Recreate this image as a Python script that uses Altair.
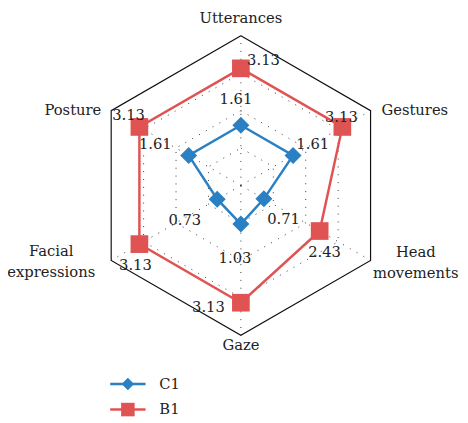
import altair as alt
import numpy as np
import pandas as pd

# ---- data ----
axes_names = ["Utterances", "Gestures", "Head movements", "Gaze", "Facial expressions", "Posture"]
axes_lines = ["Utterances", "Gestures", "Head\nmovements", "Gaze", "Facial\nexpressions", "Posture"]
c1_values = [1.61, 1.61, 0.71, 1.03, 0.73, 1.61]
b1_values = [3.13, 3.13, 2.43, 3.13, 3.13, 3.13]
c1_text = ["1.61", "1.61", "0.71", "1.03", "0.73", "1.61"]
b1_text = ["3.13", "3.13", "2.43", "3.13", "3.13", "3.13"]
grid_levels = [1, 2, 3]
r_max = 4
series_names = ["C1", "B1"]

# ---- layout (pixels) ----
W, H = 460, 415
CX, CY = 237, 177
K = 38.1  # pixels per unit
c1_off = [(-5, -27), (20, -11), (20, 21), (-6, 35), (-33, 21), (-34, -11)]
b1_off = [(23, -8), (-1, -10), (5, 21), (-33, 4), (-4, 21), (-11, -12)]
cat_off = [(0, -18), (45, -1), (46, -8), (0, 10), (-61, -9), (-39, -1)]

BLUE = "#2a80c2"
RED = "#e05353"
FONT = "DejaVu Serif"

xs = alt.Scale(domain=[-CX / K, (W - CX) / K], nice=False, zero=False)
ys = alt.Scale(domain=[-(H - CY) / K, CY / K], nice=False, zero=False)


def polar(r, i):
    a = np.deg2rad(90 - 60 * i)
    return r * np.cos(a), r * np.sin(a)


def polygon(values, name):
    rows = []
    for j in range(7):
        i = j % 6
        x, y = polar(values[i], i)
        rows.append({"x": x, "y": y, "o": j, "g": name})
    return pd.DataFrame(rows)


def pts(values):
    rows = []
    for i in range(6):
        x, y = polar(values[i], i)
        rows.append({"x": x, "y": y, "axis": axes_names[i]})
    return pd.DataFrame(rows)


def labels(values, texts, offs):
    rows = []
    for i in range(6):
        x, y = polar(values[i], i)
        rows.append({"x": x + offs[i][0] / K, "y": y - offs[i][1] / K, "t": texts[i]})
    return pd.DataFrame(rows)


X = lambda: alt.X("x:Q", scale=xs, axis=None)
Y = lambda: alt.Y("y:Q", scale=ys, axis=None)

# spokes
spk = []
for i in range(6):
    x, y = polar(r_max, i)
    spk.append({"x": 0.0, "y": 0.0, "x2": x, "y2": y})
spokes = alt.Chart(pd.DataFrame(spk)).mark_rule(
    color="#333", strokeWidth=1, strokeDash=[1, 7]
).encode(X(), Y(), x2="x2:Q", y2="y2:Q")

# dotted rings
rings_df = pd.concat([polygon([lv] * 6, f"r{lv}") for lv in grid_levels])
rings = alt.Chart(rings_df).mark_line(
    color="#333", strokeWidth=1, strokeDash=[1, 7]
).encode(X(), Y(), order="o:Q", detail="g:N")

outer = alt.Chart(polygon([r_max] * 6, "outer")).mark_line(
    color="#111", strokeWidth=1.2
).encode(X(), Y(), order="o:Q")

b1_line = alt.Chart(polygon(b1_values, "B1")).mark_line(color=RED, strokeWidth=2.5).encode(X(), Y(), order="o:Q")
b1_pts = alt.Chart(pts(b1_values)).mark_point(shape="square", filled=True, opacity=1, color=RED, size=324).encode(X(), Y())
c1_line = alt.Chart(polygon(c1_values, "C1")).mark_line(color=BLUE, strokeWidth=2.5).encode(X(), Y(), order="o:Q")
c1_pts = alt.Chart(pts(c1_values)).mark_point(shape="diamond", filled=True, opacity=1, color=BLUE, size=300).encode(X(), Y())

txt_kw = dict(font=FONT, fontSize=15, color="#222", align="center", baseline="middle")
b1_lab = alt.Chart(labels(b1_values, b1_text, b1_off)).mark_text(**txt_kw).encode(X(), Y(), text="t:N")
c1_lab = alt.Chart(labels(c1_values, c1_text, c1_off)).mark_text(**txt_kw).encode(X(), Y(), text="t:N")

cat_df = labels([r_max] * 6, axes_lines, cat_off)
cat_lab = alt.Chart(cat_df).mark_text(lineBreak="\n", lineHeight=21, **txt_kw).encode(X(), Y(), text="t:N")

# legend (manual)
leg_df = pd.DataFrame({"name": series_names})
leg_layers = []
for k, (name, col, shp, sz) in enumerate([("C1", BLUE, "diamond", 160), ("B1", RED, "square", 190)]):
    yy = 379 + 26 * k
    d = leg_df[leg_df["name"] == name]
    leg_layers.append(alt.Chart(d).mark_rule(color=col, strokeWidth=2.5).encode(
        x=alt.value(104), x2=alt.value(140), y=alt.value(yy)))
    leg_layers.append(alt.Chart(d).mark_point(shape=shp, filled=True, opacity=1, color=col, size=sz).encode(
        x=alt.value(122), y=alt.value(yy)))
    leg_layers.append(alt.Chart(d).mark_text(font=FONT, fontSize=15, color="#222", align="left", baseline="middle").encode(
        x=alt.value(154), y=alt.value(yy), text="name:N"))

chart = alt.layer(
    spokes, rings, outer, b1_line, c1_line, b1_pts, c1_pts, b1_lab, c1_lab, cat_lab, *leg_layers
).properties(
    width=W, height=H, padding=0, autosize=alt.AutoSizeParams(type="none")
).configure_view(stroke=None)

chart.save("out.html", embed_options={"renderer": "svg", "actions": False})
